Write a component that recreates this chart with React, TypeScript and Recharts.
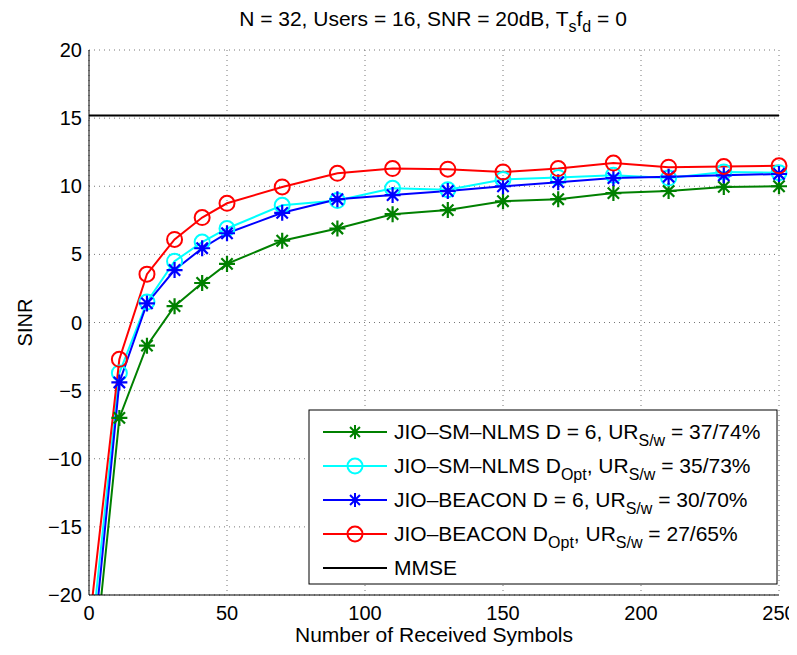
import React from "react";
import { LineChart, Line, XAxis, YAxis, CartesianGrid, Label } from "recharts";

// received symbols (x) and SINR per algorithm
const symbols = [1, 11, 21, 31, 41, 50, 70, 90, 110, 130, 150, 170, 190, 210, 230, 250];
const smNlmsD6 = [-27, -7.0, -1.7, 1.2, 2.9, 4.3, 6.0, 6.9, 7.95, 8.25, 8.9, 9.05, 9.5, 9.65, 9.95, 10.0];
const smNlmsOpt = [-23, -3.7, 1.5, 4.5, 5.9, 6.9, 8.6, 8.95, 9.85, 9.75, 10.5, 10.65, 10.8, 10.6, 11.05, 11.0];
const beaconD6 = [-25, -4.4, 1.4, 3.85, 5.45, 6.55, 8.05, 9.05, 9.35, 9.65, 10.0, 10.3, 10.6, 10.7, 10.8, 10.9];
const beaconOpt = [-20.6, -2.7, 3.55, 6.1, 7.7, 8.75, 9.95, 10.95, 11.3, 11.25, 11.05, 11.3, 11.7, 11.4, 11.45, 11.5];
const mmseLevel = 15.2;
const mmseRange = [0, 250];

const xTicks = [0, 50, 100, 150, 200, 250];
const yTicks = [-20, -15, -10, -5, 0, 5, 10, 15, 20];

const FONT = "'Liberation Sans', Arial, Helvetica, sans-serif";
const Y_MIN = -20;

const data = symbols.map((s, i) => ({
  s,
  g: smNlmsD6[i],
  c: smNlmsOpt[i],
  b: beaconD6[i],
  r: beaconOpt[i],
}));
const mmseData = mmseRange.map((s) => ({ s, m: mmseLevel }));

const series = [
  { key: "g", color: "#008000", marker: "star", name: "JIO\u2013SM\u2013NLMS D = 6, UR", sub: null, tail: " = 37/74%" },
  { key: "c", color: "#00FFFF", marker: "circle", name: "JIO\u2013SM\u2013NLMS D", sub: "Opt", tail: " = 35/73%" },
  { key: "b", color: "#0000FF", marker: "star", name: "JIO\u2013BEACON D = 6, UR", sub: null, tail: " = 30/70%" },
  { key: "r", color: "#FF0000", marker: "circle", name: "JIO\u2013BEACON D", sub: "Opt", tail: " = 27/65%" },
];

const starPath = (cx: number, cy: number, r: number) => {
  const d = r * 0.7071;
  return `M${cx - r},${cy}H${cx + r}M${cx},${cy - r}V${cy + r}M${cx - d},${cy - d}L${cx + d},${cy + d}M${cx - d},${cy + d}L${cx + d},${cy - d}`;
};

const makeDot = (marker: string, color: string) => (props: any) => {
  const { cx, cy, value, index } = props;
  if (cx == null || cy == null || value == null || value < Y_MIN) return <g key={index} />;
  if (marker === "star") {
    return <path key={index} d={starPath(cx, cy, 8)} stroke={color} strokeWidth={2.2} fill="none" />;
  }
  return <circle key={index} cx={cx} cy={cy} r={7.5} stroke={color} strokeWidth={2} fill="none" />;
};

const minus = (v: number) => String(v).replace("-", "\u2212");

const LegendBox = () => {
  const left = 301;
  const top = 402;
  const rowY = [424, 458, 492, 526, 560];
  return (
    <g>
      <rect x={left} y={top} width={468} height={174} fill="#fff" stroke="#000" strokeWidth={1} />
      {series.map((s, i) => (
        <g key={s.key}>
          <line x1={315} x2={379} y1={rowY[i]} y2={rowY[i]} stroke={s.color} strokeWidth={2} />
          {s.marker === "star" ? (
            <path d={starPath(347, rowY[i], 7)} stroke={s.color} strokeWidth={2} fill="none" />
          ) : (
            <circle cx={347} cy={rowY[i]} r={7.5} stroke={s.color} strokeWidth={2} fill="none" />
          )}
          <text x={386} y={rowY[i] + 7} fontFamily={FONT} fontSize={21} fill="#000">
            {s.name}
            {s.sub && (
              <tspan fontSize={16} dy={7}>
                {s.sub}
              </tspan>
            )}
            {s.sub ? <tspan dy={-7}>, UR</tspan> : null}
            <tspan fontSize={16} dy={7}>
              S/w
            </tspan>
            <tspan dy={-7}>{s.tail}</tspan>
          </text>
        </g>
      ))}
      <line x1={315} x2={379} y1={rowY[4]} y2={rowY[4]} stroke="#000" strokeWidth={2} />
      <text x={386} y={rowY[4] + 7} fontFamily={FONT} fontSize={21} fill="#000">
        MMSE
      </text>
    </g>
  );
};

export default function App() {
  return (
    <div style={{ position: "relative", width: 781, height: 640 }}>
      <LineChart width={781} height={640} data={data} margin={{ top: 42, right: 10, bottom: 0, left: 0 }}>
        <CartesianGrid stroke="#777" strokeDasharray="1 4" />
        <XAxis
          dataKey="s"
          type="number"
          domain={[0, 250]}
          ticks={xTicks}
          interval={0}
          height={53}
          tickSize={0}
          tickMargin={11}
          axisLine={{ stroke: "#000" }}
          tick={{ fill: "#000", fontSize: 20, fontFamily: FONT }}
        >
          <Label
            content={({ viewBox }: any) => (
              <text
                x={viewBox.x + viewBox.width / 2}
                y={634}
                textAnchor="middle"
                fontFamily={FONT}
                fontSize={21}
                textLength={278}
                lengthAdjust="spacingAndGlyphs"
                fill="#000"
              >
                Number of Received Symbols
              </text>
            )}
          />
        </XAxis>
        <XAxis xAxisId="bm" dataKey="s" type="number" domain={[0, 250]} ticks={xTicks} interval={0} mirror height={0} tick={false} tickSize={7} axisLine={false} tickLine={{ stroke: "#000" }} />
        <XAxis xAxisId="top" dataKey="s" type="number" orientation="top" domain={[0, 250]} ticks={xTicks} interval={0} mirror height={0} tick={false} tickSize={7} axisLine={{ stroke: "#000" }} tickLine={{ stroke: "#000" }} />
        <YAxis
          type="number"
          domain={[-20, 20]}
          ticks={yTicks}
          interval={0}
          allowDataOverflow
          width={81}
          tickSize={0}
          tickMargin={7}
          tickFormatter={minus}
          axisLine={{ stroke: "#000" }}
          tick={{ fill: "#000", fontSize: 20, fontFamily: FONT }}
        >
          <Label
            content={({ viewBox }: any) => {
              const cy = viewBox.y + viewBox.height / 2;
              return (
                <text
                  x={17}
                  y={cy}
                  dy={7}
                  transform={`rotate(-90, 17, ${cy})`}
                  textAnchor="middle"
                  fontFamily={FONT}
                  fontSize={20}
                  fill="#000"
                >
                  SINR
                </text>
              );
            }}
          />
        </YAxis>
        <YAxis yAxisId="lm" type="number" domain={[-20, 20]} ticks={yTicks} interval={0} mirror width={0} tick={false} tickSize={7} axisLine={false} tickLine={{ stroke: "#000" }} />
        <YAxis yAxisId="right" orientation="right" type="number" domain={[-20, 20]} ticks={yTicks} interval={0} mirror width={0} tick={false} tickSize={7} axisLine={{ stroke: "#000" }} tickLine={{ stroke: "#000" }} />
        {series.map((s) => (
          <Line
            key={s.key}
            dataKey={s.key}
            stroke={s.color}
            strokeWidth={2}
            isAnimationActive={false}
            dot={makeDot(s.marker, s.color)}
            activeDot={false}
          />
        ))}
        <Line data={mmseData} dataKey="m" stroke="#000" strokeWidth={2} dot={false} activeDot={false} isAnimationActive={false} />
      </LineChart>
      <svg width={781} height={640} style={{ position: "absolute", left: 0, top: 0, pointerEvents: "none" }}>
        <text x={425} y={18} textAnchor="middle" fontFamily={FONT} fontSize={21} fill="#000">
          N = 32, Users = 16, SNR = 20dB, T
          <tspan fontSize={16} dy={6}>s</tspan>
          <tspan dy={-6}>f</tspan>
          <tspan fontSize={16} dy={6}>d</tspan>
          <tspan dy={-6}> = 0</tspan>
        </text>
        <LegendBox />
      </svg>
    </div>
  );
}
